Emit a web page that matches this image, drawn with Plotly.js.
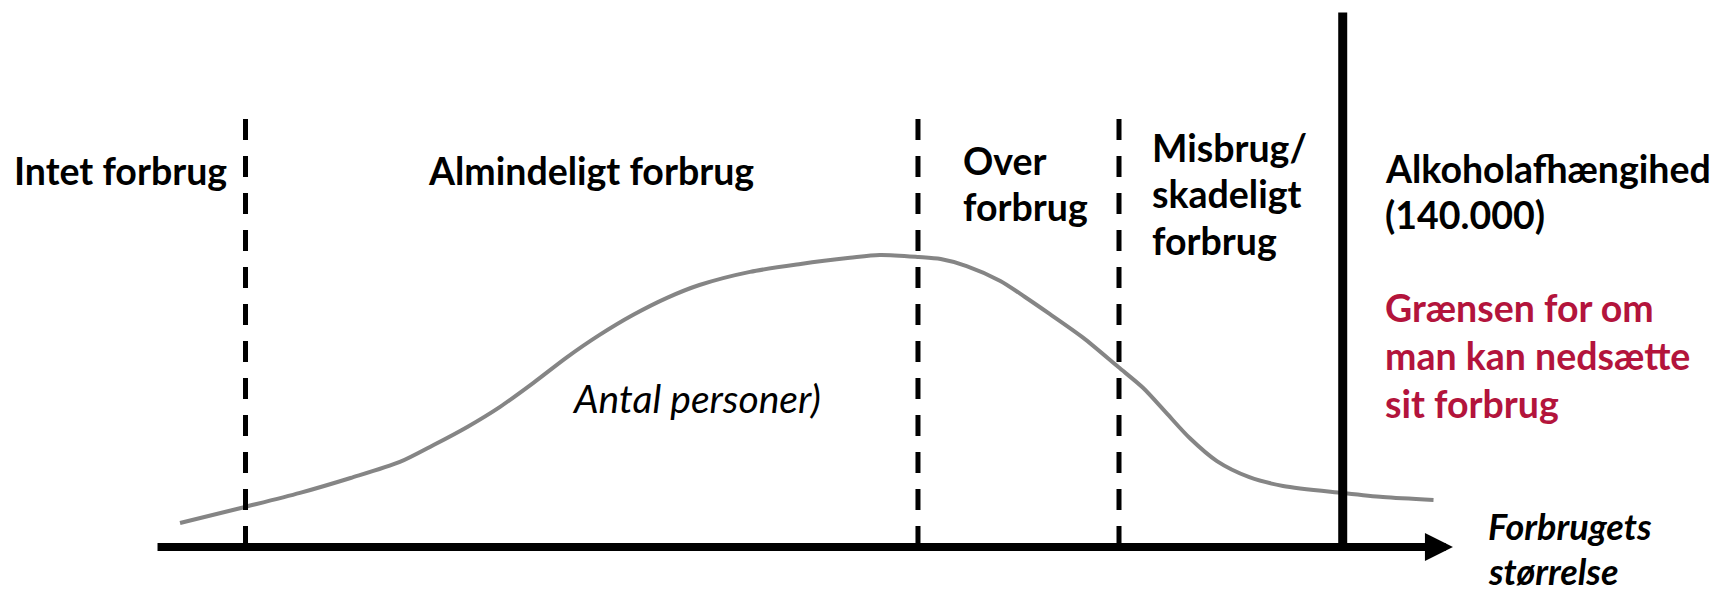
<!DOCTYPE html>
<html>
<head>
<meta charset="utf-8">
<script src="https://cdn.plot.ly/plotly-3.0.1.min.js"></script>
<style>
  html, body { margin: 0; padding: 0; background: #fff; }
  #chart { width: 1713px; height: 596px; }
</style>
</head>
<body>
<div id="chart"></div>
<script>
// Curve: number of people by size of consumption (arbitrary units)
var forbrugX = [1.85, 6.86, 11.1, 15.0, 18.8, 21.4, 24.0, 26.5, 29.1, 31.7, 34.2, 36.8, 39.4, 41.9,
                45.8, 49.7, 53.5, 55.8, 58.8, 60.5, 62.5, 65.1, 67.0, 68.9, 71.5, 74.2, 76.1, 77.9,
                79.7, 81.8, 84.3, 86.9, 91.5, 94.6, 98.5];
var personerY = [8.2, 13.7, 18.5, 23.6, 29.1, 34.9, 41.1, 47.9, 56.2, 65.0, 72.6, 79.5, 85.3, 89.7,
                 94.2, 96.9, 99.0, 100, 99.3, 98.6, 96.2, 91.1, 85.6, 79.8, 71.6, 61.6, 54.5, 45.9,
                 37.3, 29.4, 23.9, 20.9, 18.5, 17.1, 16.1];

// Borders between the consumption groups
var graenserX = [6.9, 58.75, 74.25];
var afhaengighedX = 91.5;
var axisEnd = 100;
var dashTop = 149;
var solidTop = 183;

// Texts
var zoneLabels = [
  ['Intet forbrug'],
  ['Almindeligt forbrug'],
  ['Over', 'forbrug'],
  ['Misbrug/', 'skadeligt', 'forbrug'],
  ['Alkoholafhængihed', '(140.000)']
];
var redLabel = ['Grænsen for om', 'man kan nedsætte', 'sit forbrug'];
var yLabel = 'Antal personer)';
var xLabel = ['Forbrugets', 'størrelse'];

var W = 1713, H = 596;
var FONT = 'Lato, "Open Sans", sans-serif';
var fs = 37.5;

function px(x) { return x / W; }
function py(y) { return 1 - y / H; }

// left edge and first baseline of each label block (pixels), line step
var zonePos = [[12, 185], [426, 185], [961, 175], [1150, 162], [1383, 183]];
var lineStep = 46.5;

var annotations = [];
function addLines(lines, left, base, step, font) {
  lines.forEach(function (t, i) {
    annotations.push({
      text: t, xref: 'paper', yref: 'paper',
      x: px(left), y: py(base + i * step - 0.387 * font.size),
      xanchor: 'left', yanchor: 'middle', showarrow: false, font: font
    });
  });
}

zoneLabels.forEach(function (lines, i) {
  addLines(lines, zonePos[i][0], zonePos[i][1], lineStep,
    {family: FONT, size: fs, color: '#000', weight: 'bold'});
});
addLines(redLabel, 1383, 322, 48, {family: FONT, size: fs, color: '#b3143c', weight: 'bold'});
addLines([yLabel], 570, 413, 0, {family: FONT, size: 39, color: '#000', style: 'italic'});
addLines(xLabel, 1486, 540, 45, {family: FONT, size: 36, color: '#000', weight: 'bold', style: 'italic'});

// x axis with arrow
annotations.push({
  x: axisEnd, y: 0, ax: 0, ay: 0, xref: 'x', yref: 'y', axref: 'x', ayref: 'y',
  text: '', showarrow: true, arrowhead: 2, arrowsize: 0.7, arrowwidth: 8, arrowcolor: '#000'
});

var shapes = graenserX.map(function (gx) {
  return {type: 'line', xref: 'x', yref: 'y', x0: gx, x1: gx, y0: 0, y1: dashTop,
          line: {color: '#000', width: 5, dash: '21px,16px'}};
});
shapes.push({type: 'line', xref: 'x', yref: 'y', x0: afhaengighedX, x1: afhaengighedX,
             y0: -1, y1: solidTop, line: {color: '#000', width: 9}});

var data = [{
  x: forbrugX,
  y: personerY,
  type: 'scatter',
  mode: 'lines',
  line: {color: '#858585', width: 4, shape: 'spline', smoothing: 0.8},
  hoverinfo: 'skip'
}];

var layout = {
  width: W,
  height: H,
  margin: {l: 0, r: 0, t: 0, b: 0},
  paper_bgcolor: '#fff',
  plot_bgcolor: '#fff',
  showlegend: false,
  xaxis: {range: [-12.03, 120.05], visible: false, fixedrange: true},
  yaxis: {range: [-16.8, 187.3], visible: false, fixedrange: true},
  shapes: shapes,
  annotations: annotations
};

Plotly.newPlot('chart', data, layout, {staticPlot: true, displayModeBar: false});
</script>
</body>
</html>
